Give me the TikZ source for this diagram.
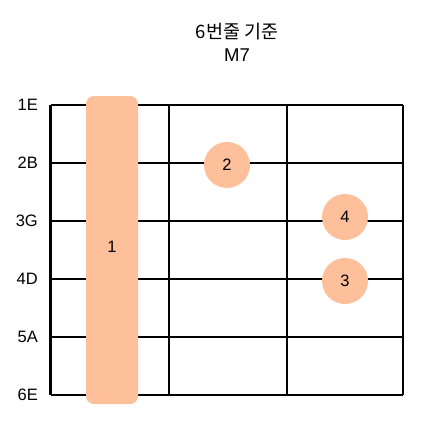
\documentclass[tikz,border=0pt]{standalone}
\usepackage{fontspec}
\setmainfont{Liberation Sans}
\newfontfamily\kr{Noto Sans CJK KR}
\definecolor{peach}{RGB}{253,192,155}
\tikzset{
  grid line/.style={line width=2.2pt, black},
  finger/.style={circle, fill=peach, minimum size=46pt, inner sep=0pt, font=\fontsize{16.5}{18}\selectfont},
  barre/.style={rounded corners=8pt, fill=peach, minimum width=52pt, minimum height=308pt, inner sep=0pt},
  strlabel/.style={anchor=east, inner sep=0pt, font=\fontsize{16.5}{18}\selectfont},
  title/.style={align=center, inner sep=0pt, font=\fontsize{18.5}{23}\selectfont}
}
\begin{document}
\begin{tikzpicture}[x=1pt,y=-1pt]
\useasboundingbox (0,0) rectangle (428,420);
% grid
\foreach \yy in {105,163,221,279,337,395} \draw[grid line] (50.5,\yy) -- (403,\yy);
\foreach \xx in {50.5,169,287,403} \draw[grid line] (\xx,105) -- (\xx,395);
% string labels
\node[strlabel] (s1) at (38,105) {1E};
\node[strlabel] (s2) at (38,163) {2B};
\node[strlabel] (s3) at (38,221) {3G};
\node[strlabel] (s4) at (38,279) {4D};
\node[strlabel] (s5) at (38,337) {5A};
\node[strlabel] (s6) at (38,395) {6E};
% title
\node[title] (t) at (237,42) {{\kr 6번줄 기준}\\M7};
% fingers
\node[barre] (f1) at (112,250) {};
\node (f1l) at (112,247) [font=\fontsize{16.5}{18}\selectfont] {1};
\node[finger] (f2) at (227,165) {2};
\node[finger] (f4) at (345,217) {4};
\node[finger] (f3) at (345,281) {3};
\end{tikzpicture}
\end{document}
